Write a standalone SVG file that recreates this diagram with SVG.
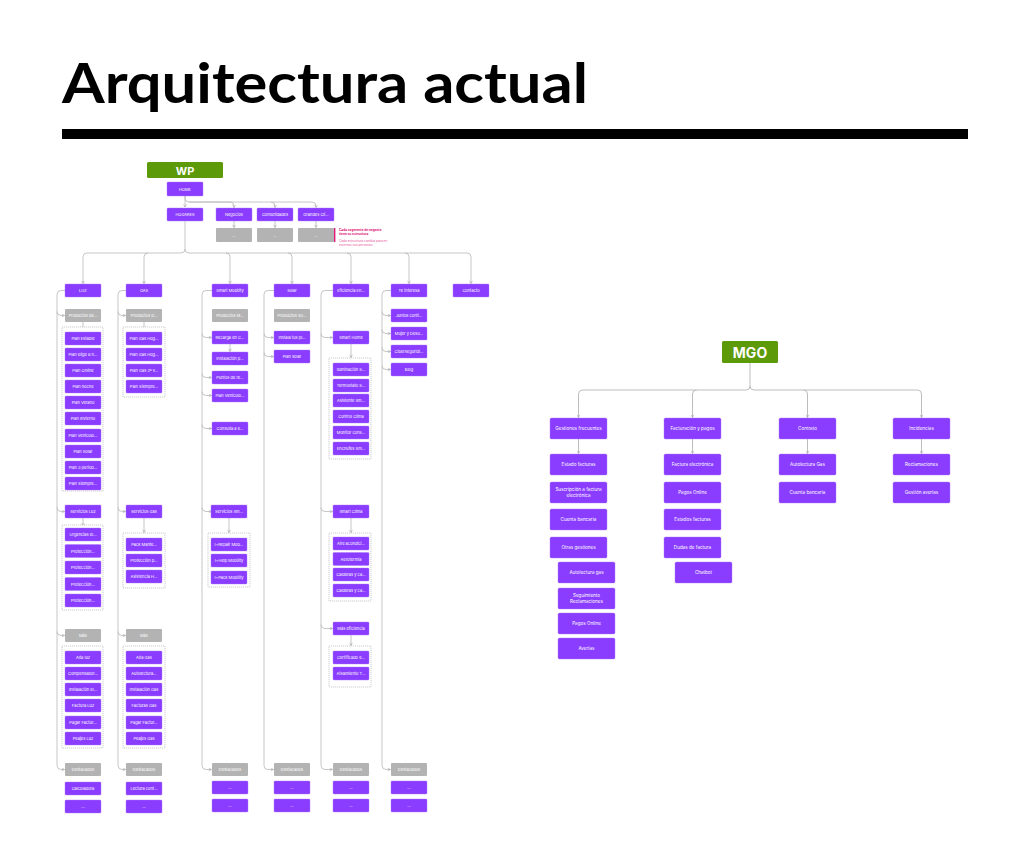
<svg xmlns="http://www.w3.org/2000/svg" width="1024" height="853" viewBox="0 0 1024 853">
<style>
.p{fill:#8b3dff;stroke:#a673ff;stroke-width:0.4}
.g{fill:#b3b3b3}
.gr{fill:#5d9a09}
.t{font-family:Inter,"Noto Sans",sans-serif;font-size:4px;fill:#fff;text-anchor:middle;dominant-baseline:central}
.tm{font-family:Inter,"Noto Sans",sans-serif;font-size:4.6px;fill:#fff;text-anchor:middle;dominant-baseline:central}
.tb{font-family:Inter,"Noto Sans",sans-serif;font-weight:700;fill:#fff;text-anchor:middle;dominant-baseline:central}
.c{fill:none;stroke:#b8b8b8;stroke-width:0.8}
.cm{fill:none;stroke:#bdbdbd;stroke-width:1}
.d{fill:#fff;stroke:#9a9a9a;stroke-width:0.5;stroke-dasharray:1.2 0.8}
.pk{font-family:Inter,"Noto Sans",sans-serif;font-size:3.2px;fill:#e0187a}
</style>
<defs>
<marker id="a" viewBox="0 0 6 6" refX="5" refY="3" markerWidth="4" markerHeight="4" markerUnits="userSpaceOnUse" orient="auto">
<path d="M1,0.8 L5,3 L1,5.2" fill="none" stroke="#a8a8a8" stroke-width="0.9"/>
</marker>
</defs>
<rect width="1024" height="853" fill="#fff"/>
<text x="62" y="103" font-family="Lato,Inter,sans-serif" font-weight="700" font-size="56" textLength="526" lengthAdjust="spacingAndGlyphs" fill="#000">Arquitectura actual</text>
<rect x="62" y="129" width="906" height="10" fill="#000"/>

<g id="connectors">
<!-- HOME -->
<path class="c" marker-end="url(#a)" d="M185 196 V207"/>
<path class="c" marker-end="url(#a)" d="M185 196 V198 Q185 202 189 202 H230 Q234 202 234 206 V207.5"/>
<path class="c" marker-end="url(#a)" d="M189 202 H271 Q275 202 275 206 V207.5"/>
<path class="c" marker-end="url(#a)" d="M271 202 H312 Q316 202 316 206 V207.5"/>
<path class="c" marker-end="url(#a)" d="M234 221 V227.5"/>
<path class="c" marker-end="url(#a)" d="M275 221 V227.5"/>
<path class="c" marker-end="url(#a)" d="M316 221 V227.5"/>
<!-- HOGARES -->
<path class="c" marker-end="url(#a)" d="M185 221 V249 Q185 253 181 253 H87 Q83 253 83 257 V283.5"/>
<path class="c" marker-end="url(#a)" d="M148 253 Q144 253 144 257 V283.5"/>
<path class="c" marker-end="url(#a)" d="M185 249 Q185 253 189 253 H226 Q230 253 230 257 V283.5"/>
<path class="c" marker-end="url(#a)" d="M226 253 H288 Q292 253 292 257 V283.5"/>
<path class="c" marker-end="url(#a)" d="M288 253 H347 Q351 253 351 257 V283.5"/>
<path class="c" marker-end="url(#a)" d="M347 253 H405 Q409 253 409 257 V283.5"/>
<path class="c" marker-end="url(#a)" d="M405 253 H467 Q471 253 471 257 V283.5"/>
<!-- LUZ spine -->
<path class="c" marker-end="url(#a)" d="M65 290.5 H61 Q57 290.5 57 294.5 V765.5 Q57 769.5 61 769.5 H64.5"/>
<path class="c" marker-end="url(#a)" d="M57 311.5 Q57 315.5 61 315.5 H64.5"/>
<path class="c" marker-end="url(#a)" d="M57 507.5 Q57 511.5 61 511.5 H64.5"/>
<path class="c" marker-end="url(#a)" d="M57 631.5 Q57 635.5 61 635.5 H64.5"/>
<path class="c" marker-end="url(#a)" d="M83 322 V329.5"/>
<path class="c" marker-end="url(#a)" d="M83 518 V526"/>
<!-- GAS spine -->
<path class="c" marker-end="url(#a)" d="M126 290.5 H122 Q118 290.5 118 294.5 V765.5 Q118 769.5 122 769.5 H125.5"/>
<path class="c" marker-end="url(#a)" d="M118 311.5 Q118 315.5 122 315.5 H125.5"/>
<path class="c" marker-end="url(#a)" d="M118 507.5 Q118 511.5 122 511.5 H125.5"/>
<path class="c" marker-end="url(#a)" d="M118 631.5 Q118 635.5 122 635.5 H125.5"/>
<path class="c" marker-end="url(#a)" d="M144 322 V329.5"/>
<path class="c" marker-end="url(#a)" d="M144 518 V532.5"/>
<!-- SM spine -->
<path class="c" marker-end="url(#a)" d="M212 290.5 H206 Q202 290.5 202 294.5 V765.5 Q202 769.5 206 769.5 H211.5"/>
<path class="c" marker-end="url(#a)" d="M202 333.5 Q202 337.5 206 337.5 H211.5"/>
<path class="c" marker-end="url(#a)" d="M202 373.5 Q202 377.5 206 377.5 H211.5"/>
<path class="c" marker-end="url(#a)" d="M202 391.5 Q202 395.5 206 395.5 H211.5"/>
<path class="c" marker-end="url(#a)" d="M202 424.5 Q202 428.5 206 428.5 H211.5"/>
<path class="c" marker-end="url(#a)" d="M202 507.5 Q202 511.5 206 511.5 H211.5"/>
<path class="c" marker-end="url(#a)" d="M230 344 V351.5"/>
<path class="c" marker-end="url(#a)" d="M229 518 V532.5"/>
<!-- Solar spine -->
<path class="c" marker-end="url(#a)" d="M274 290.5 H268 Q264 290.5 264 294.5 V765.5 Q264 769.5 268 769.5 H273.5"/>
<path class="c" marker-end="url(#a)" d="M264 333.5 Q264 337.5 268 337.5 H273.5"/>
<path class="c" marker-end="url(#a)" d="M264 352.5 Q264 356.5 268 356.5 H273.5"/>
<!-- Eficiencia spine -->
<path class="c" marker-end="url(#a)" d="M333 290.5 H325 Q321 290.5 321 294.5 V765.5 Q321 769.5 325 769.5 H332.5"/>
<path class="c" marker-end="url(#a)" d="M321 333.5 Q321 337.5 325 337.5 H332.5"/>
<path class="c" marker-end="url(#a)" d="M321 507.5 Q321 511.5 325 511.5 H332.5"/>
<path class="c" marker-end="url(#a)" d="M321 624.5 Q321 628.5 325 628.5 H332.5"/>
<path class="c" marker-end="url(#a)" d="M351 344 V357.5"/>
<path class="c" marker-end="url(#a)" d="M351 518 V532.5"/>
<path class="c" marker-end="url(#a)" d="M351 635 V645.5"/>
<!-- Te interesa spine -->
<path class="c" marker-end="url(#a)" d="M391 290.5 H386 Q382 290.5 382 294.5 V765.5 Q382 769.5 386 769.5 H390.5"/>
<path class="c" marker-end="url(#a)" d="M382 311.5 Q382 315.5 386 315.5 H390.5"/>
<path class="c" marker-end="url(#a)" d="M382 329.5 Q382 333.5 386 333.5 H390.5"/>
<path class="c" marker-end="url(#a)" d="M382 347.5 Q382 351.5 386 351.5 H390.5"/>
<path class="c" marker-end="url(#a)" d="M382 365.5 Q382 369.5 386 369.5 H390.5"/>
<!-- MGO -->
<path class="cm" marker-end="url(#a)" d="M750 363 V386 Q750 390 746 390 H582.5 Q578.5 390 578.5 394 V417.5"/>
<path class="cm" marker-end="url(#a)" d="M696.5 390 Q692.5 390 692.5 394 V417.5"/>
<path class="cm" marker-end="url(#a)" d="M750 386 Q750 390 754 390 H803.5 Q807.5 390 807.5 394 V417.5"/>
<path class="cm" marker-end="url(#a)" d="M803.5 390 H917.5 Q921.5 390 921.5 394 V417.5"/>
<path class="cm" marker-end="url(#a)" d="M578.5 439 V453.5"/>
<path class="cm" marker-end="url(#a)" d="M692.5 439 V453.5"/>
<path class="cm" marker-end="url(#a)" d="M807.5 439 V453.5"/>
<path class="cm" marker-end="url(#a)" d="M921.5 439 V453.5"/>
</g>

<!-- top -->
<g id="wp"><rect class="gr" x="147" y="162" width="76" height="16" rx="1.5"/><text class="tb" x="185" y="170.5" font-size="11">WP</text></g>
<g id="home"><rect class="p" x="167" y="182" width="36" height="14" rx="1"/><text class="t" x="185" y="189">HOME</text></g>
<g id="hogares"><rect class="p" x="167" y="208" width="36" height="13" rx="1"/><text class="t" x="185" y="214.5">HOGARES</text></g>
<g id="negocios"><rect class="p" x="216" y="208" width="36" height="13" rx="1"/><text class="t" x="234" y="214.5">Negocios</text></g>
<g id="comunidades"><rect class="p" x="257" y="208" width="36" height="13" rx="1"/><text class="t" x="275" y="214.5">Comunidades</text></g>
<g id="grandes"><rect class="p" x="298" y="208" width="36" height="13" rx="1"/><text class="t" x="316" y="214.5">Grandes Cli...</text></g>
<g id="neg-sub"><rect class="g" x="216" y="228" width="36" height="14" rx="1"/><text class="t" x="234" y="235">...</text></g>
<g id="com-sub"><rect class="g" x="257" y="228" width="36" height="14" rx="1"/><text class="t" x="275" y="235">...</text></g>
<g id="gra-sub"><rect class="g" x="298" y="228" width="36" height="14" rx="1"/><text class="t" x="316" y="235">...</text></g>
<g id="note">
<rect x="334" y="228" width="1.4" height="14" fill="#e0187a"/>
<text class="pk" x="339" y="231" font-weight="700">Cada segmento de negocio</text>
<text class="pk" x="339" y="235" font-weight="700">tiene su estructura</text>
<text class="pk" x="339" y="241.5" opacity="0.75">Cada estructura cambia para en</text>
<text class="pk" x="339" y="245.5" opacity="0.75">escenas sus personas</text>
</g>

<!-- L1 -->
<g id="luz"><rect class="p" x="65" y="284" width="36" height="13" rx="1"/><text class="t" x="83" y="290.5">LUZ</text></g>
<g id="gas"><rect class="p" x="126" y="284" width="36" height="13" rx="1"/><text class="t" x="144" y="290.5">GAS</text></g>
<g id="smart-mobility"><rect class="p" x="212" y="284" width="36" height="13" rx="1"/><text class="t" x="230" y="290.5">Smart Mobility</text></g>
<g id="solar"><rect class="p" x="274" y="284" width="36" height="13" rx="1"/><text class="t" x="292" y="290.5">Solar</text></g>
<g id="eficiencia"><rect class="p" x="333" y="284" width="36" height="13" rx="1"/><text class="t" x="351" y="290.5">Eficiencia En...</text></g>
<g id="te-interesa"><rect class="p" x="391" y="284" width="36" height="13" rx="1"/><text class="t" x="409" y="290.5">Te interesa</text></g>
<g id="contacto"><rect class="p" x="453" y="284" width="36" height="13" rx="1"/><text class="t" x="471" y="290.5">Contacto</text></g>

<!-- LUZ column -->
<g id="luz-productos"><rect class="g" x="65" y="309" width="36" height="13" rx="1"/><text class="t" x="83" y="315.5">Productos de...</text></g>
<g id="luz-planes">
<rect class="d" x="62" y="327" width="41" height="164"/>
<rect class="p" x="65" y="332" width="36" height="13" rx="1"/><text class="t" x="83" y="338.5">Plan Estable</text>
<rect class="p" x="65" y="348" width="36" height="13" rx="1"/><text class="t" x="83" y="354.5">Plan elige 8 h...</text>
<rect class="p" x="65" y="364" width="36" height="13" rx="1"/><text class="t" x="83" y="370.5">Plan Online</text>
<rect class="p" x="65" y="380" width="36" height="13" rx="1"/><text class="t" x="83" y="386.5">Plan noche</text>
<rect class="p" x="65" y="396" width="36" height="13" rx="1"/><text class="t" x="83" y="402.5">Plan Verano</text>
<rect class="p" x="65" y="412" width="36" height="13" rx="1"/><text class="t" x="83" y="418.5">Plan Invierno</text>
<rect class="p" x="65" y="429" width="36" height="13" rx="1"/><text class="t" x="83" y="435.5">Plan Vehículo...</text>
<rect class="p" x="65" y="445" width="36" height="13" rx="1"/><text class="t" x="83" y="451.5">Plan Solar</text>
<rect class="p" x="65" y="461" width="36" height="13" rx="1"/><text class="t" x="83" y="467.5">Plan 3 period...</text>
<rect class="p" x="65" y="477" width="36" height="13" rx="1"/><text class="t" x="83" y="483.5">Plan Siempre...</text>
</g>
<g id="luz-servicios"><rect class="p" x="65" y="505" width="36" height="13" rx="1"/><text class="t" x="83" y="511.5">Servicios Luz</text></g>
<g id="luz-servicios-list">
<rect class="d" x="62" y="525" width="41" height="85"/>
<rect class="p" x="65" y="528" width="36" height="13" rx="1"/><text class="t" x="83" y="534.5">Urgencias el...</text>
<rect class="p" x="65" y="544.5" width="36" height="13" rx="1"/><text class="t" x="83" y="551">Protección...</text>
<rect class="p" x="65" y="561" width="36" height="13" rx="1"/><text class="t" x="83" y="567.5">Protección...</text>
<rect class="p" x="65" y="577.5" width="36" height="13" rx="1"/><text class="t" x="83" y="584">Protección...</text>
<rect class="p" x="65" y="594" width="36" height="13" rx="1"/><text class="t" x="83" y="600.5">Protección...</text>
</g>
<g id="luz-mas"><rect class="g" x="65" y="629" width="36" height="13" rx="1"/><text class="t" x="83" y="635.5">Más</text></g>
<g id="luz-mas-list">
<rect class="d" x="62" y="646" width="41" height="102"/>
<rect class="p" x="65" y="651" width="36" height="13" rx="1"/><text class="t" x="83" y="657.5">Alta luz</text>
<rect class="p" x="65" y="667" width="36" height="13" rx="1"/><text class="t" x="83" y="673.5">Compensador...</text>
<rect class="p" x="65" y="683" width="36" height="13" rx="1"/><text class="t" x="83" y="689.5">Instalación el...</text>
<rect class="p" x="65" y="699" width="36" height="13" rx="1"/><text class="t" x="83" y="705.5">Factura Luz</text>
<rect class="p" x="65" y="716" width="36" height="13" rx="1"/><text class="t" x="83" y="722.5">Pagar Factur...</text>
<rect class="p" x="65" y="732" width="36" height="13" rx="1"/><text class="t" x="83" y="738.5">Peajes Luz</text>
</g>
<g id="luz-destacados"><rect class="g" x="65" y="763" width="36" height="13" rx="1"/><text class="t" x="83" y="769.5">Destacados</text></g>
<g id="luz-calculadora"><rect class="p" x="65" y="782" width="36" height="13" rx="1"/><text class="t" x="83" y="788.5">Calculadora</text></g>
<g id="luz-more"><rect class="p" x="65" y="800" width="36" height="13" rx="1"/><text class="t" x="83" y="806.5">...</text></g>

<!-- GAS column -->
<g id="gas-productos"><rect class="g" x="126" y="309" width="36" height="13" rx="1"/><text class="t" x="144" y="315.5">Productos d...</text></g>
<g id="gas-planes">
<rect class="d" x="123" y="327" width="42" height="70"/>
<rect class="p" x="126" y="332" width="36" height="13" rx="1"/><text class="t" x="144" y="338.5">Plan Gas Hog...</text>
<rect class="p" x="126" y="348" width="36" height="13" rx="1"/><text class="t" x="144" y="354.5">Plan Gas Hog...</text>
<rect class="p" x="126" y="364" width="36" height="13" rx="1"/><text class="t" x="144" y="370.5">Plan Gas 2º v...</text>
<rect class="p" x="126" y="380" width="36" height="13" rx="1"/><text class="t" x="144" y="386.5">Plan Siempre...</text>
</g>
<g id="gas-servicios"><rect class="p" x="126" y="505" width="36" height="13" rx="1"/><text class="t" x="144" y="511.5">Servicios Gas</text></g>
<g id="gas-servicios-list">
<rect class="d" x="123" y="533" width="42" height="55"/>
<rect class="p" x="126" y="538" width="36" height="13" rx="1"/><text class="t" x="144" y="544.5">Pack Mante...</text>
<rect class="p" x="126" y="554" width="36" height="13" rx="1"/><text class="t" x="144" y="560.5">Protección p...</text>
<rect class="p" x="126" y="570" width="36" height="13" rx="1"/><text class="t" x="144" y="576.5">Asistencia H...</text>
</g>
<g id="gas-mas"><rect class="g" x="126" y="629" width="36" height="13" rx="1"/><text class="t" x="144" y="635.5">Más</text></g>
<g id="gas-mas-list">
<rect class="d" x="123" y="646" width="42" height="102"/>
<rect class="p" x="126" y="651" width="36" height="13" rx="1"/><text class="t" x="144" y="657.5">Alta Gas</text>
<rect class="p" x="126" y="667" width="36" height="13" rx="1"/><text class="t" x="144" y="673.5">Autolectura...</text>
<rect class="p" x="126" y="683" width="36" height="13" rx="1"/><text class="t" x="144" y="689.5">Instalación Gas</text>
<rect class="p" x="126" y="699" width="36" height="13" rx="1"/><text class="t" x="144" y="705.5">Facturas Gas</text>
<rect class="p" x="126" y="716" width="36" height="13" rx="1"/><text class="t" x="144" y="722.5">Pagar Factur...</text>
<rect class="p" x="126" y="732" width="36" height="13" rx="1"/><text class="t" x="144" y="738.5">Peajes Gas</text>
</g>
<g id="gas-destacados"><rect class="g" x="126" y="763" width="36" height="13" rx="1"/><text class="t" x="144" y="769.5">Destacados</text></g>
<g id="gas-lectura"><rect class="p" x="126" y="782" width="36" height="13" rx="1"/><text class="t" x="144" y="788.5">Lectura cont...</text></g>
<g id="gas-more"><rect class="p" x="126" y="800" width="36" height="13" rx="1"/><text class="t" x="144" y="806.5">...</text></g>

<!-- Smart Mobility column -->
<g id="sm-productos"><rect class="g" x="212" y="309" width="36" height="13" rx="1"/><text class="t" x="230" y="315.5">Productos M...</text></g>
<g id="sm-recarga"><rect class="p" x="212" y="331" width="36" height="13" rx="1"/><text class="t" x="230" y="337.5">Recarga en C...</text></g>
<g id="sm-instalacion"><rect class="p" x="212" y="352" width="36" height="13" rx="1"/><text class="t" x="230" y="358.5">Instalación p...</text></g>
<g id="sm-puntos"><rect class="p" x="212" y="371" width="36" height="13" rx="1"/><text class="t" x="230" y="377.5">Puntos de re...</text></g>
<g id="sm-plan"><rect class="p" x="212" y="389" width="36" height="13" rx="1"/><text class="t" x="230" y="395.5">Plan Vehículo...</text></g>
<g id="sm-consulta"><rect class="p" x="212" y="422" width="36" height="13" rx="1"/><text class="t" x="230" y="428.5">Consulta a e...</text></g>
<g id="sm-servicios"><rect class="p" x="211" y="505" width="36" height="13" rx="1"/><text class="t" x="229" y="511.5">Servicios Sm...</text></g>
<g id="sm-servicios-list">
<rect class="d" x="208" y="533" width="42" height="54"/>
<rect class="p" x="211" y="538" width="36" height="13" rx="1"/><text class="t" x="229" y="544.5">I+Repair Mob...</text>
<rect class="p" x="211" y="554" width="36" height="13" rx="1"/><text class="t" x="229" y="560.5">I+Help Mobility</text>
<rect class="p" x="211" y="571" width="36" height="13" rx="1"/><text class="t" x="229" y="577.5">I+Pack Mobility</text>
</g>
<g id="sm-destacados"><rect class="g" x="212" y="763" width="36" height="13" rx="1"/><text class="t" x="230" y="769.5">Destacados</text></g>
<g id="sm-more1"><rect class="p" x="212" y="781" width="36" height="13" rx="1"/><text class="t" x="230" y="787.5">...</text></g>
<g id="sm-more2"><rect class="p" x="212" y="799" width="36" height="13" rx="1"/><text class="t" x="230" y="805.5">...</text></g>

<!-- Solar column -->
<g id="sol-productos"><rect class="g" x="274" y="309" width="36" height="13" rx="1"/><text class="t" x="292" y="315.5">Productos So...</text></g>
<g id="sol-instala"><rect class="p" x="274" y="331" width="36" height="13" rx="1"/><text class="t" x="292" y="337.5">Instala tus pl...</text></g>
<g id="sol-plan"><rect class="p" x="274" y="350" width="36" height="13" rx="1"/><text class="t" x="292" y="356.5">Plan solar</text></g>
<g id="sol-destacados"><rect class="g" x="274" y="763" width="36" height="13" rx="1"/><text class="t" x="292" y="769.5">Destacados</text></g>
<g id="sol-more1"><rect class="p" x="274" y="781" width="36" height="13" rx="1"/><text class="t" x="292" y="787.5">...</text></g>
<g id="sol-more2"><rect class="p" x="274" y="799" width="36" height="13" rx="1"/><text class="t" x="292" y="805.5">...</text></g>

<!-- Eficiencia column -->
<g id="ef-smart-home"><rect class="p" x="333" y="331" width="36" height="13" rx="1"/><text class="t" x="351" y="337.5">Smart Home</text></g>
<g id="ef-smart-home-list">
<rect class="d" x="329" y="358" width="42" height="101"/>
<rect class="p" x="333" y="363" width="36" height="13" rx="1"/><text class="t" x="351" y="369.5">Iluminación S...</text>
<rect class="p" x="333" y="379" width="36" height="13" rx="1"/><text class="t" x="351" y="385.5">Termostato S...</text>
<rect class="p" x="333" y="394" width="36" height="13" rx="1"/><text class="t" x="351" y="400.5">Asistente Sm...</text>
<rect class="p" x="333" y="410" width="36" height="13" rx="1"/><text class="t" x="351" y="416.5">Control Clima</text>
<rect class="p" x="333" y="426" width="36" height="13" rx="1"/><text class="t" x="351" y="432.5">Monitor cons...</text>
<rect class="p" x="333" y="442" width="36" height="13" rx="1"/><text class="t" x="351" y="448.5">Enchufes Sm...</text>
</g>
<g id="ef-smart-clima"><rect class="p" x="333" y="505" width="36" height="13" rx="1"/><text class="t" x="351" y="511.5">Smart Clima</text></g>
<g id="ef-smart-clima-list">
<rect class="d" x="329" y="533" width="42" height="68"/>
<rect class="p" x="333" y="537" width="36" height="13" rx="1"/><text class="t" x="351" y="543.5">Aire acondici...</text>
<rect class="p" x="333" y="552.5" width="36" height="13" rx="1"/><text class="t" x="351" y="559">Aerotermia</text>
<rect class="p" x="333" y="568" width="36" height="13" rx="1"/><text class="t" x="351" y="574.5">Calderas y ca...</text>
<rect class="p" x="333" y="584" width="36" height="13" rx="1"/><text class="t" x="351" y="590.5">Calderas y ca...</text>
</g>
<g id="ef-mas"><rect class="p" x="333" y="622" width="36" height="13" rx="1"/><text class="t" x="351" y="628.5">Más eficiencia</text></g>
<g id="ef-mas-list">
<rect class="d" x="329" y="646" width="42" height="41"/>
<rect class="p" x="333" y="651" width="36" height="13" rx="1"/><text class="t" x="351" y="657.5">Certificado e...</text>
<rect class="p" x="333" y="667" width="36" height="13" rx="1"/><text class="t" x="351" y="673.5">Aislamiento T...</text>
</g>
<g id="ef-destacados"><rect class="g" x="333" y="763" width="36" height="13" rx="1"/><text class="t" x="351" y="769.5">Destacados</text></g>
<g id="ef-more1"><rect class="p" x="333" y="781" width="36" height="13" rx="1"/><text class="t" x="351" y="787.5">...</text></g>
<g id="ef-more2"><rect class="p" x="333" y="799" width="36" height="13" rx="1"/><text class="t" x="351" y="805.5">...</text></g>

<!-- Te interesa column -->
<g id="te-juntos"><rect class="p" x="391" y="309" width="36" height="13" rx="1"/><text class="t" x="409" y="315.5">Juntos conti...</text></g>
<g id="te-mujer"><rect class="p" x="391" y="327" width="36" height="13" rx="1"/><text class="t" x="409" y="333.5">Mujer y Deso...</text></g>
<g id="te-ciber"><rect class="p" x="391" y="345" width="36" height="13" rx="1"/><text class="t" x="409" y="351.5">Ciberseguridi...</text></g>
<g id="te-blog"><rect class="p" x="391" y="363" width="36" height="13" rx="1"/><text class="t" x="409" y="369.5">Blog</text></g>
<g id="te-destacados"><rect class="g" x="391" y="763" width="36" height="13" rx="1"/><text class="t" x="409" y="769.5">Destacados</text></g>
<g id="te-more1"><rect class="p" x="391" y="781" width="36" height="13" rx="1"/><text class="t" x="409" y="787.5">...</text></g>
<g id="te-more2"><rect class="p" x="391" y="799" width="36" height="13" rx="1"/><text class="t" x="409" y="805.5">...</text></g>

<!-- MGO -->
<g id="mgo"><rect class="gr" x="722" y="341" width="56" height="22" rx="1.5"/><text class="tb" x="750" y="352.5" font-size="14">MGO</text></g>
<g id="gestiones"><rect class="p" x="550" y="418" width="57" height="21" rx="1.5"/><text class="tm" x="578.5" y="428.5">Gestiones frecuentes</text></g>
<g id="facturacion"><rect class="p" x="664" y="418" width="57" height="21" rx="1.5"/><text class="tm" x="692.5" y="428.5">Facturación y pagos</text></g>
<g id="contrato"><rect class="p" x="779" y="418" width="57" height="21" rx="1.5"/><text class="tm" x="807.5" y="428.5">Contrato</text></g>
<g id="incidencias"><rect class="p" x="893" y="418" width="57" height="21" rx="1.5"/><text class="tm" x="921.5" y="428.5">Incidencias</text></g>

<g id="g-estado"><rect class="p" x="550" y="454" width="57" height="21" rx="1.5"/><text class="tm" x="578.5" y="464.5">Estado facturas</text></g>
<g id="g-suscripcion"><rect class="p" x="550" y="482" width="57" height="21" rx="1.5"/><text class="tm" x="578.5" y="489.5">Suscripción a factura</text><text class="tm" x="578.5" y="495.5">electrónica</text></g>
<g id="g-cuenta"><rect class="p" x="550" y="509" width="57" height="21" rx="1.5"/><text class="tm" x="578.5" y="519.5">Cuenta bancaria</text></g>
<g id="g-otras"><rect class="p" x="550" y="537" width="57" height="21" rx="1.5"/><text class="tm" x="578.5" y="547.5">Otras gestiones</text></g>
<g id="g-autolectura"><rect class="p" x="558" y="562" width="57" height="21" rx="1.5"/><text class="tm" x="586.5" y="572.5">Autolectura gas</text></g>
<g id="g-seguimiento"><rect class="p" x="558" y="588" width="57" height="21" rx="1.5"/><text class="tm" x="586.5" y="595.5">Seguimiento</text><text class="tm" x="586.5" y="601.5">Reclamaciones</text></g>
<g id="g-pagos"><rect class="p" x="558" y="613" width="57" height="21" rx="1.5"/><text class="tm" x="586.5" y="623.5">Pagos Online</text></g>
<g id="g-averias"><rect class="p" x="558" y="638" width="57" height="21" rx="1.5"/><text class="tm" x="586.5" y="648.5">Averías</text></g>

<g id="f-factura"><rect class="p" x="664" y="454" width="57" height="21" rx="1.5"/><text class="tm" x="692.5" y="464.5">Factura electrónica</text></g>
<g id="f-pagos"><rect class="p" x="664" y="482" width="57" height="21" rx="1.5"/><text class="tm" x="692.5" y="492.5">Pagos Online</text></g>
<g id="f-estados"><rect class="p" x="664" y="509" width="57" height="21" rx="1.5"/><text class="tm" x="692.5" y="519.5">Estados facturas</text></g>
<g id="f-dudas"><rect class="p" x="664" y="537" width="57" height="21" rx="1.5"/><text class="tm" x="692.5" y="547.5">Dudas de factura</text></g>
<g id="f-chatbot"><rect class="p" x="675" y="562" width="57" height="21" rx="1.5"/><text class="tm" x="703.5" y="572.5">Chatbot</text></g>

<g id="c-autolectura"><rect class="p" x="779" y="454" width="57" height="21" rx="1.5"/><text class="tm" x="807.5" y="464.5">Autolectura Gas</text></g>
<g id="c-cuenta"><rect class="p" x="779" y="482" width="57" height="21" rx="1.5"/><text class="tm" x="807.5" y="492.5">Cuenta bancaria</text></g>

<g id="i-reclamaciones"><rect class="p" x="893" y="454" width="57" height="21" rx="1.5"/><text class="tm" x="921.5" y="464.5">Reclamaciones</text></g>
<g id="i-averias"><rect class="p" x="893" y="482" width="57" height="21" rx="1.5"/><text class="tm" x="921.5" y="492.5">Gestión averías</text></g>
</svg>
